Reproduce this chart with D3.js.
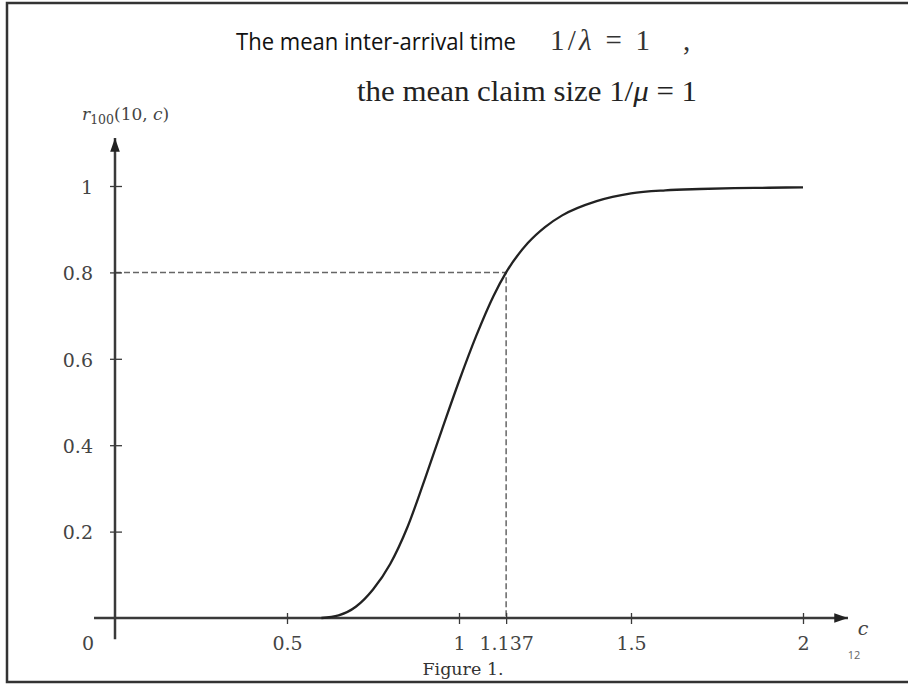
<!DOCTYPE html>
<html>
<head>
<meta charset="utf-8">
<script src="https://cdn.jsdelivr.net/npm/d3@7"></script>
<style>
  body { margin: 0; background: #fff; }
  svg { display: block; }
</style>
</head>
<body>
<svg></svg>
<script>
const width = 908;
const height = 684;

// curve r_100(10, c)
const cValues = [0.60, 0.65, 0.70, 0.75, 0.80, 0.85, 0.90, 0.95, 1.00, 1.05, 1.10, 1.137, 1.20, 1.25, 1.30, 1.40, 1.50, 1.60, 1.70, 1.80, 1.90, 2.00];
const rValues = [0.000, 0.006, 0.026, 0.066, 0.125, 0.210, 0.320, 0.435, 0.548, 0.653, 0.745, 0.800, 0.868, 0.905, 0.932, 0.965, 0.983, 0.990, 0.993, 0.995, 0.996, 0.997];
const xTicks = [0.5, 1, 1.137, 1.5, 2];
const xTickLabels = ['0.5', '1', '1.137', '1.5', '2'];
const yTicks = [0.2, 0.4, 0.6, 0.8, 1];
const yTickLabels = ['0.2', '0.4', '0.6', '0.8', '1'];
const marked = { c: 1.137, r: 0.8 };

const svg = d3.select('svg').attr('width', width).attr('height', height);
const x = d3.scaleLinear().domain([0, 2]).range([115, 803]);
const y = d3.scaleLinear().domain([0, 1]).range([618, 186]);
const serif = "'DejaVu Serif', serif";
const axisColor = '#3a3a3a';
const labelColor = '#444';

// frame
svg.append('rect')
    .attr('x', 7).attr('y', 3)
    .attr('width', 912).attr('height', 679)
    .attr('fill', 'none')
    .attr('stroke', '#333')
    .attr('stroke-width', 2.5);

svg.append('defs').append('marker')
    .attr('id', 'arrow')
    .attr('viewBox', '0 0 10 10')
    .attr('refX', 10).attr('refY', 5)
    .attr('markerWidth', 5.5).attr('markerHeight', 5.5)
    .attr('markerUnits', 'strokeWidth')
    .attr('orient', 'auto')
    .append('path')
    .attr('d', 'M0,1.5 L10,5 L0,8.5 Z')
    .attr('fill', '#222');

// dashed guide lines
svg.append('path')
    .attr('d', `M${x(0)},${y(marked.r)} H${x(marked.c)} V${y(0)}`)
    .attr('fill', 'none')
    .attr('stroke', '#666')
    .attr('stroke-width', 1.5)
    .attr('stroke-dasharray', '6,3');

// x axis
const xAxis = svg.append('g')
    .attr('transform', `translate(0,${y(0)})`)
    .call(d3.axisBottom(x).tickValues(xTicks).tickFormat((d, i) => xTickLabels[i]).tickSize(5));
xAxis.select('.domain').remove();
xAxis.selectAll('.tick line').attr('y1', -5).attr('y2', 6).attr('stroke', axisColor).attr('stroke-width', 1.3);
xAxis.selectAll('.tick text')
    .attr('y', 32).attr('dy', null)
    .style('font-family', serif).style('font-size', '19px').attr('fill', labelColor);

svg.append('line')
    .attr('x1', x(-0.061)).attr('x2', 848)
    .attr('y1', y(0)).attr('y2', y(0))
    .attr('stroke', axisColor).attr('stroke-width', 2.5)
    .attr('marker-end', 'url(#arrow)');

// y axis
const yAxis = svg.append('g')
    .attr('transform', `translate(${x(0)},0)`)
    .call(d3.axisLeft(y).tickValues(yTicks).tickFormat((d, i) => yTickLabels[i]).tickSize(5));
yAxis.select('.domain').remove();
yAxis.selectAll('.tick line').attr('x1', -5).attr('x2', 7).attr('stroke', axisColor).attr('stroke-width', 1.3);
yAxis.selectAll('.tick text')
    .attr('x', -22).attr('dy', '0.38em')
    .style('font-family', serif).style('font-size', '19px').attr('fill', labelColor);

svg.append('line')
    .attr('x1', x(0)).attr('x2', x(0))
    .attr('y1', y(-0.049)).attr('y2', 138)
    .attr('stroke', axisColor).attr('stroke-width', 2.5)
    .attr('marker-end', 'url(#arrow)');

// origin label
svg.append('text')
    .attr('x', 88).attr('y', 650)
    .attr('text-anchor', 'middle')
    .style('font-family', serif).style('font-size', '19px')
    .attr('fill', labelColor)
    .text('0');

// curve
const line = d3.line()
    .x((d, i) => x(cValues[i]))
    .y((d, i) => y(rValues[i]))
    .curve(d3.curveMonotoneX);
svg.append('path')
    .datum(rValues)
    .attr('d', line)
    .attr('fill', 'none')
    .attr('stroke', '#222')
    .attr('stroke-width', 2.3);

// axis titles
const yLabel = svg.append('text')
    .attr('x', 82).attr('y', 120)
    .style('font-family', serif).style('font-size', '17px')
    .attr('fill', labelColor);
yLabel.append('tspan').style('font-style', 'italic').text('r');
yLabel.append('tspan').attr('dy', 4).style('font-size', '12.5px').text('100');
yLabel.append('tspan').attr('dy', -4).text('(10, ');
yLabel.append('tspan').style('font-style', 'italic').text('c');
yLabel.append('tspan').text(')');

svg.append('text')
    .attr('x', 863).attr('y', 635)
    .attr('text-anchor', 'middle')
    .style('font-family', serif).style('font-size', '19px').style('font-style', 'italic')
    .attr('fill', labelColor)
    .text('c');

svg.append('text')
    .attr('x', 854).attr('y', 659)
    .attr('text-anchor', 'middle')
    .style('font-family', "'Open Sans', sans-serif").style('font-size', '11px')
    .attr('fill', '#666')
    .text('12');

svg.append('text')
    .attr('x', 463).attr('y', 675)
    .attr('text-anchor', 'middle')
    .style('font-family', serif).style('font-size', '17.5px')
    .attr('fill', '#333')
    .text('Figure 1.');

// heading
svg.append('text')
    .attr('x', 236).attr('y', 50)
    .attr('textLength', 280).attr('lengthAdjust', 'spacingAndGlyphs')
    .style('font-family', "'Open Sans', sans-serif").style('font-size', '24.5px')
    .attr('fill', '#111')
    .text('The mean inter-arrival time');

const m1 = svg.append('text')
    .attr('x', 550).attr('y', 50)
    .attr('textLength', 100).attr('lengthAdjust', 'spacing')
    .style('font-family', "'Liberation Serif', serif").style('font-size', '29px')
    .attr('fill', '#333');
m1.append('tspan').text('1/');
m1.append('tspan').style('font-style', 'italic').text('λ');
m1.append('tspan').text(' = 1');

svg.append('text')
    .attr('x', 683).attr('y', 50)
    .style('font-family', "'Liberation Serif', serif").style('font-size', '29px')
    .attr('fill', '#333')
    .text(',');

const m2 = svg.append('text')
    .attr('x', 357).attr('y', 101)
    .attr('textLength', 340).attr('lengthAdjust', 'spacingAndGlyphs')
    .style('font-family', "'Liberation Serif', serif").style('font-size', '29px')
    .attr('fill', '#222');
m2.append('tspan').text('the mean claim size 1/');
m2.append('tspan').style('font-style', 'italic').text('μ');
m2.append('tspan').text(' = 1');
</script>
</body>
</html>
